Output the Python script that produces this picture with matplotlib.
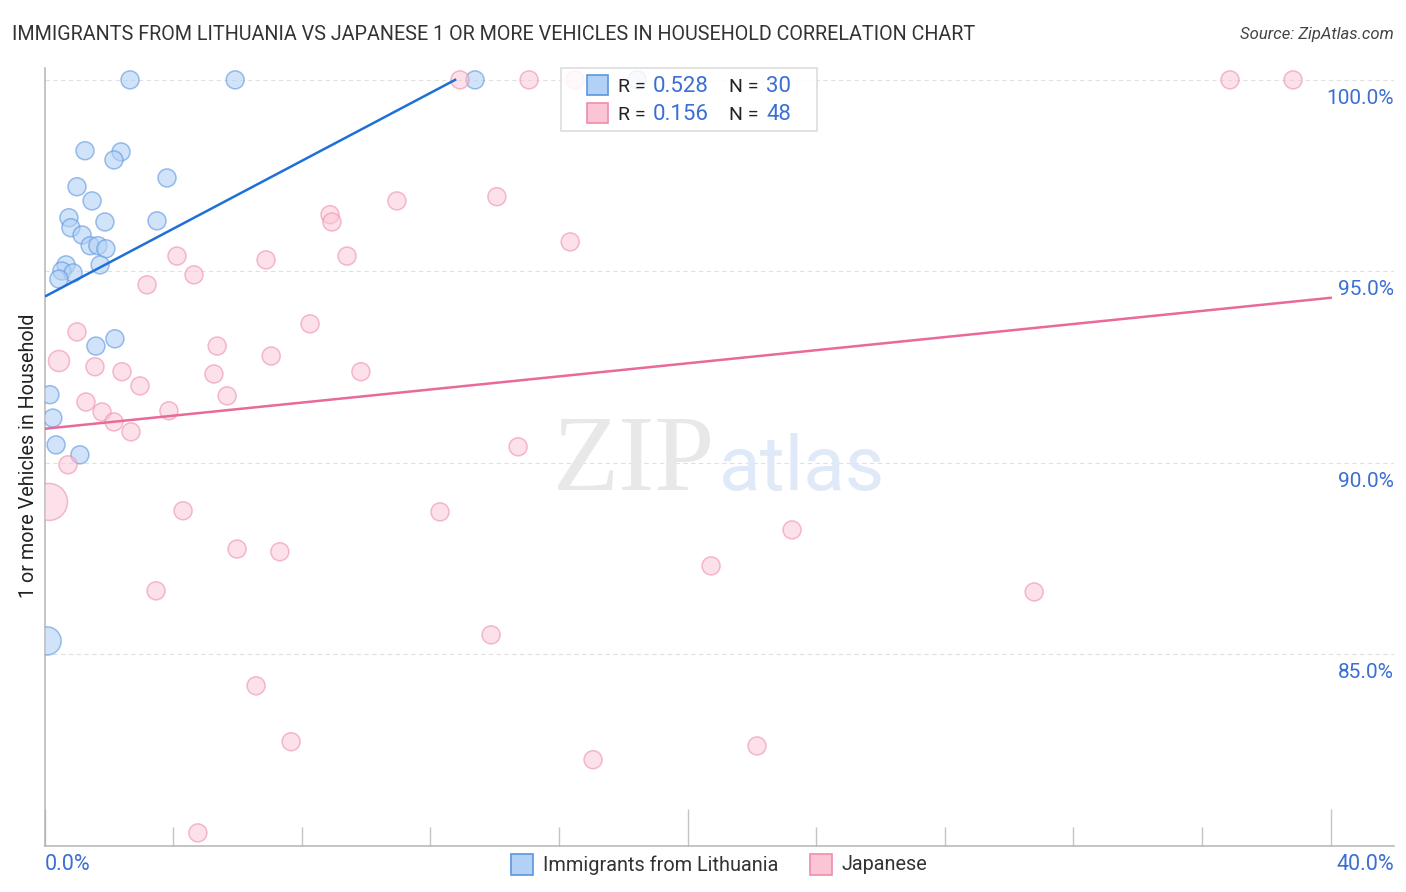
"""
Immigrants from Lithuania vs Japanese correlation scatter, values read off the reference.
"""

import matplotlib
matplotlib.use("Agg")
import matplotlib.pyplot as plt
from matplotlib.colors import to_rgba
from matplotlib.patches import Rectangle

BLUE, BLUE_EDGE, BLUE_LINE = "#b3d1f5", "#5b96e0", "#1f6fd8"
PINK, PINK_EDGE, PINK_LINE = "#fcc5d6", "#ee8fab", "#e8699a"
TICK_BLUE = "#3b6fd4"

x_major = [0, 20, 40]
x_minor = [4, 8, 12, 16, 24, 28, 32, 36]
y_ticks = [85, 90, 95, 100]
y_labels = ["85.0%", "90.0%", "95.0%", "100.0%"]

lith_x = [2.66, 5.93, 13.39, 18.43, 1.26, 2.38, 2.16, 3.81, 1.01, 1.48,
          0.76, 1.88, 3.50, 0.82, 1.17, 1.42, 1.66, 1.91, 0.67, 0.54,
          0.89, 1.73, 0.45, 2.19, 1.60, 0.17, 0.26, 0.36, 1.10, 0.08]
lith_y = [100, 100, 100, 100, 98.15, 98.12, 97.91, 97.44, 97.21, 96.84,
          96.40, 96.29, 96.32, 96.14, 95.95, 95.67, 95.67, 95.59, 95.17, 95.01,
          94.96, 95.17, 94.80, 93.24, 93.05, 91.78, 91.17, 90.47, 90.21, 85.35]
lith_s = [168] * 29 + [410]

jap_x = [12.92, 15.07, 16.50, 36.87, 38.83, 14.07, 10.96, 8.88, 8.94, 16.35,
         9.41, 4.12, 6.89, 4.65, 3.19, 8.26, 1.01, 5.37, 7.05, 0.45,
         1.57, 2.41, 5.27, 9.84, 2.97, 5.68, 1.29, 1.79, 3.87, 2.16,
         2.69, 14.73, 0.73, 0.14, 4.31, 12.30, 23.25, 5.99, 7.32, 20.73,
         3.47, 30.78, 13.89, 6.58, 7.67, 22.16, 17.06, 4.77]
jap_y = [100, 100, 100, 100, 100, 96.95, 96.84, 96.48, 96.29, 95.77,
         95.40, 95.40, 95.30, 94.91, 94.65, 93.63, 93.42, 93.05, 92.79, 92.66,
         92.51, 92.38, 92.32, 92.38, 92.01, 91.75, 91.59, 91.33, 91.36, 91.07,
         90.81, 90.42, 89.95, 88.98, 88.75, 88.72, 88.25, 87.75, 87.68, 87.31,
         86.66, 86.63, 85.51, 84.18, 82.72, 82.61, 82.25, 80.34]
jap_s = [168] * 48
jap_s[19] = 230
jap_s[33] = 710

lith_line_x, lith_line_y = [0.05, 12.77], [94.36, 100]
jap_line_x, jap_line_y = [0, 40], [90.89, 94.31]

plt.rcParams["font.family"] = ["Roboto", "DejaVu Sans"]

W, H = 1406, 892
fig = plt.figure(figsize=(W / 100, H / 100), dpi=100)
ax = fig.add_axes([44.5 / W, (H - 845.5) / H, 1349.5 / W, 777.5 / H])
ax.set_xlim(0, 41.97)
ax.set_ylim(80.01, 100.31)

for s in ("top", "right"):
    ax.spines[s].set_visible(False)
for s in ("left", "bottom"):
    ax.spines[s].set_color("#b4b4b4")
    ax.spines[s].set_linewidth(1.1)

ax.set_yticks(y_ticks)
ax.set_yticklabels([])
ax.tick_params(axis="y", length=0)
ax.set_xticks(x_major)
ax.set_xticks(x_minor, minor=True)
ax.set_xticklabels([])
ax.tick_params(axis="x", which="major", direction="in", length=26.6, width=1, color="#c4c4c4")
ax.tick_params(axis="x", which="minor", direction="in", length=13.7, width=1, color="#c4c4c4")
ax.grid(axis="y", color="#e0e0e0", lw=0.8, ls=(0, (4, 3)))
ax.set_axisbelow(True)

# watermark
ax.text(0.4368, 0.457, "ZIP", transform=ax.transAxes, family="Liberation Serif", fontsize=78,
        color="#e8e8e8", ha="center", va="baseline", zorder=1)
ax.text(0.5613, 0.457, "atlas", transform=ax.transAxes, fontsize=55,
        color="#dfe9f8", ha="center", va="baseline", zorder=1)

ax.scatter(lith_x, lith_y, s=lith_s, c=[to_rgba(BLUE, 0.6)], edgecolors=[to_rgba(BLUE_EDGE, 0.6)],
           linewidths=1.1, zorder=3)
ax.scatter(jap_x, jap_y, s=jap_s, c=[to_rgba(PINK, 0.5)], edgecolors=[to_rgba(PINK_EDGE, 0.6)],
           linewidths=1.1, zorder=3)
ax.plot(lith_line_x, lith_line_y, color=BLUE_LINE, lw=1.8, zorder=4)
ax.plot(jap_line_x, jap_line_y, color=PINK_LINE, lw=1.8, zorder=4)

# tick labels sit below their gridlines, flush with the right edge
for v, lab in zip(y_ticks, y_labels):
    ax.annotate(lab, (1, v), xycoords=("axes fraction", "data"), xytext=(0, -18.5),
                textcoords="offset pixels", ha="right", va="center", fontsize=15, color=TICK_BLUE)
fig.text(45 / W, 1 - 865 / H, "0.0%", ha="left", va="center", fontsize=15.5, color=TICK_BLUE)
fig.text(1394 / W, 1 - 865 / H, "40.0%", ha="right", va="center", fontsize=15.5, color=TICK_BLUE)

fig.text(12 / W, 1 - 35 / H, "IMMIGRANTS FROM LITHUANIA VS JAPANESE 1 OR MORE VEHICLES IN HOUSEHOLD CORRELATION CHART",
         ha="left", va="center", fontsize=14.25, color="#333333")
fig.text(1394 / W, 1 - 34.5 / H, "Source: ZipAtlas.com", ha="right", va="center", fontsize=12,
         style="italic", color="#444444")
fig.text(29 / W, 1 - 456 / H, "1 or more Vehicles in Household", rotation=90, ha="center", va="center",
         fontsize=14.2, color="#222222", zorder=3)


def px_box(x, y, w, h, fc, ec, lw=1.2, z=6):
    fig.add_artist(Rectangle((x / W, 1 - (y + h) / H), w / W, h / H, transform=fig.transFigure,
                             fc=fc, ec=ec, lw=lw, zorder=z))


# stats box on top of the points, slightly see-through
fig.add_artist(Rectangle((560.5 / W, 1 - 130.5 / H), 256.5 / W, 62.5 / H, transform=fig.transFigure,
                         fc=(1, 1, 1, 0.85), ec="#dddddd", lw=1.2, zorder=6))
px_box(587, 75, 21, 20, BLUE, BLUE_EDGE)
px_box(587, 103, 21, 20, PINK, PINK_EDGE)
rows = [(87, "0.528", "30"), (115, "0.156", "48")]
for y, r, n in rows:
    fig.text(618 / W, 1 - y / H, "R =", ha="left", va="center", fontsize=14, color="#222222", zorder=7)
    fig.text(709 / W, 1 - y / H, r, ha="right", va="center", fontsize=16, color=TICK_BLUE, zorder=7)
    fig.text(729 / W, 1 - y / H, "N =", ha="left", va="center", fontsize=14, color="#222222", zorder=7)
    fig.text(791 / W, 1 - y / H, n, ha="right", va="center", fontsize=16, color=TICK_BLUE, zorder=7)

# bottom legend
px_box(511, 854, 22, 21, BLUE, BLUE_EDGE)
fig.text(543 / W, 1 - 865 / H, "Immigrants from Lithuania", ha="left", va="center", fontsize=14.3, color="#333333")
px_box(810, 854, 22, 21, PINK, PINK_EDGE)
fig.text(842 / W, 1 - 865 / H, "Japanese", ha="left", va="center", fontsize=14.3, color="#333333")

fig.savefig("out.png", dpi=100)
